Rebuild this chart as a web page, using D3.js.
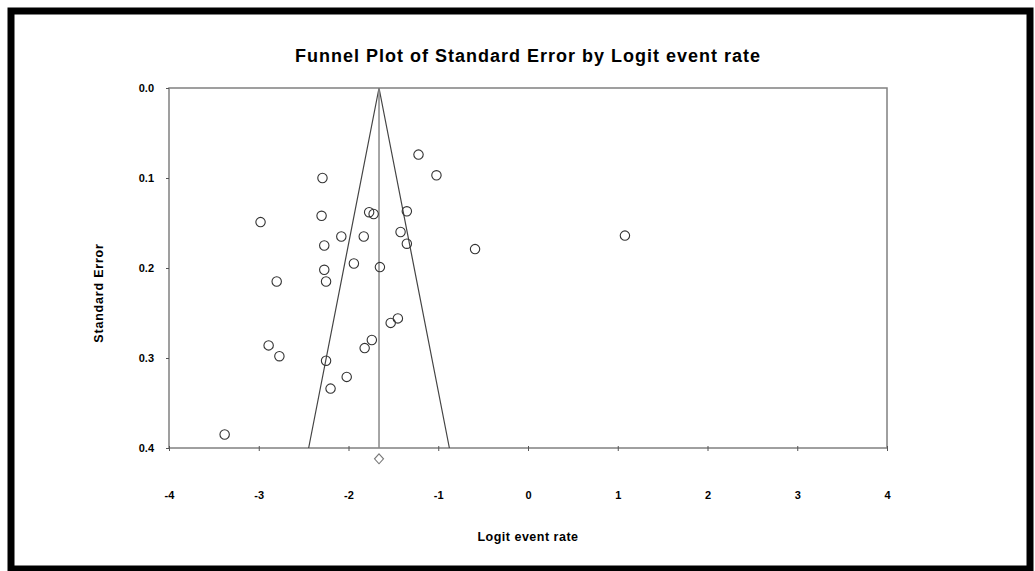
<!DOCTYPE html>
<html>
<head>
<meta charset="utf-8">
<script src="https://cdn.jsdelivr.net/npm/d3@7"></script>
<style>
  body { margin: 0; background: #fff; }
  text { font-family: Arial, 'Liberation Sans', sans-serif; font-weight: bold; fill: #000; }
</style>
</head>
<body>
<div id="viz"></div>
<script>
const width = 1035;
const height = 571;
const margin = {top: 88, right: 148, bottom: 123, left: 169};

// Studies: logit event rate and standard error
const logitRates = [-1.22, -1.02, -2.29, -2.98, -2.30, -1.77, -1.72, -1.35, -2.08, -1.83,
                    -1.42, -1.35, -2.27, -0.59, -1.94, -1.65, -2.27, 1.08, -2.80, -2.25,
                    -1.45, -1.53, -1.74, -1.82, -2.89, -2.77, -2.25, -2.02, -2.20, -3.38];
const standardErrors = [0.074, 0.097, 0.100, 0.149, 0.142, 0.138, 0.140, 0.137, 0.165, 0.165,
                        0.160, 0.173, 0.175, 0.179, 0.195, 0.199, 0.202, 0.164, 0.215, 0.215,
                        0.256, 0.261, 0.280, 0.289, 0.286, 0.298, 0.303, 0.321, 0.334, 0.385];
// combined estimate and the SE row the diamond sits on
const pooledRate = -1.66;
const diamondSE = 0.412;

const xTicks = [-4, -3, -2, -1, 0, 1, 2, 3, 4];
const yTicks = [0.0, 0.1, 0.2, 0.3, 0.4];

const studies = logitRates.map((d, i) => ({rate: d, se: standardErrors[i]}));

const svg = d3.select('#viz')
  .append('svg')
    .attr('width', width)
    .attr('height', height);

// outer frame
svg.append('rect')
    .attr('x', 11)
    .attr('y', 11)
    .attr('width', 1019)
    .attr('height', 558)
    .attr('fill', 'none')
    .attr('stroke', '#000')
    .attr('stroke-width', 7);

const xScale = d3.scaleLinear()
  .domain([-4, 4])
  .range([margin.left, width - margin.right]);
const yScale = d3.scaleLinear()
  .domain([0, 0.4])
  .range([margin.top, height - margin.bottom]);

// plot box
svg.append('rect')
    .attr('x', xScale(-4))
    .attr('y', yScale(0))
    .attr('width', xScale(4) - xScale(-4))
    .attr('height', yScale(0.4) - yScale(0))
    .attr('fill', 'none')
    .attr('stroke', '#808080')
    .attr('stroke-width', 1.5);

// axes (plain hyphen for negatives, like the original)
const xAxisGroup = svg.append('g')
    .attr('class', 'x-axis-group')
    .attr('transform', `translate(0, ${yScale(0.4)})`)
    .call(d3.axisBottom(xScale).tickValues(xTicks).tickSize(3).tickPadding(40).tickFormat(d => String(d)));
xAxisGroup.select('.domain').remove();
xAxisGroup.selectAll('line').attr('stroke', '#555').attr('y1', -2);
xAxisGroup.selectAll('text').style('font-size', '11px');

const yAxisGroup = svg.append('g')
    .attr('class', 'y-axis-group')
    .attr('transform', `translate(${xScale(-4)}, 0)`)
    .call(d3.axisLeft(yScale).tickValues(yTicks).tickSize(3).tickPadding(12).tickFormat(d3.format('.1f')));
yAxisGroup.select('.domain').remove();
yAxisGroup.selectAll('line').attr('stroke', '#555');
yAxisGroup.selectAll('text').style('font-size', '11px');

// title and axis titles
svg.append('text')
    .attr('x', (xScale(-4) + xScale(4)) / 2)
    .attr('y', 62)
    .attr('text-anchor', 'middle')
    .style('font-size', '18px')
    .style('letter-spacing', '1px')
    .text('Funnel Plot of Standard Error by Logit event rate');
svg.append('text')
    .attr('x', (xScale(-4) + xScale(4)) / 2)
    .attr('y', 541)
    .attr('text-anchor', 'middle')
    .style('font-size', '12.5px')
    .style('letter-spacing', '0.5px')
    .text('Logit event rate');
svg.append('text')
    .attr('transform', `translate(103, 293) rotate(-90)`)
    .attr('text-anchor', 'middle')
    .style('font-size', '12.5px')
    .style('letter-spacing', '0.8px')
    .text('Standard Error');

// funnel: pooled estimate +/- 1.96 SE
const funnel = [
  [pooledRate - 1.96 * 0.4, 0.4],
  [pooledRate, 0],
  [pooledRate + 1.96 * 0.4, 0.4]
];
svg.append('path')
    .attr('d', d3.line().x(d => xScale(d[0])).y(d => yScale(d[1]))(funnel))
    .attr('fill', 'none')
    .attr('stroke', '#444')
    .attr('stroke-width', 1.2);
svg.append('line')
    .attr('x1', xScale(pooledRate))
    .attr('x2', xScale(pooledRate))
    .attr('y1', yScale(0))
    .attr('y2', yScale(0.4))
    .attr('stroke', '#888')
    .attr('stroke-width', 1.5);

// studies
svg.append('g')
    .attr('class', 'circles-group')
  .selectAll('circle')
  .data(studies)
  .join('circle')
    .attr('cx', d => xScale(d.rate))
    .attr('cy', d => yScale(d.se))
    .attr('r', 4.7)
    .attr('fill', 'none')
    .attr('stroke', '#333')
    .attr('stroke-width', 1.1);

// combined effect diamond
const cx = xScale(pooledRate);
const cy = yScale(diamondSE);
svg.append('path')
    .attr('d', `M${cx},${cy - 5}L${cx + 4.5},${cy}L${cx},${cy + 5}L${cx - 4.5},${cy}Z`)
    .attr('fill', '#fff')
    .attr('stroke', '#777')
    .attr('stroke-width', 1.1);
</script>
</body>
</html>
